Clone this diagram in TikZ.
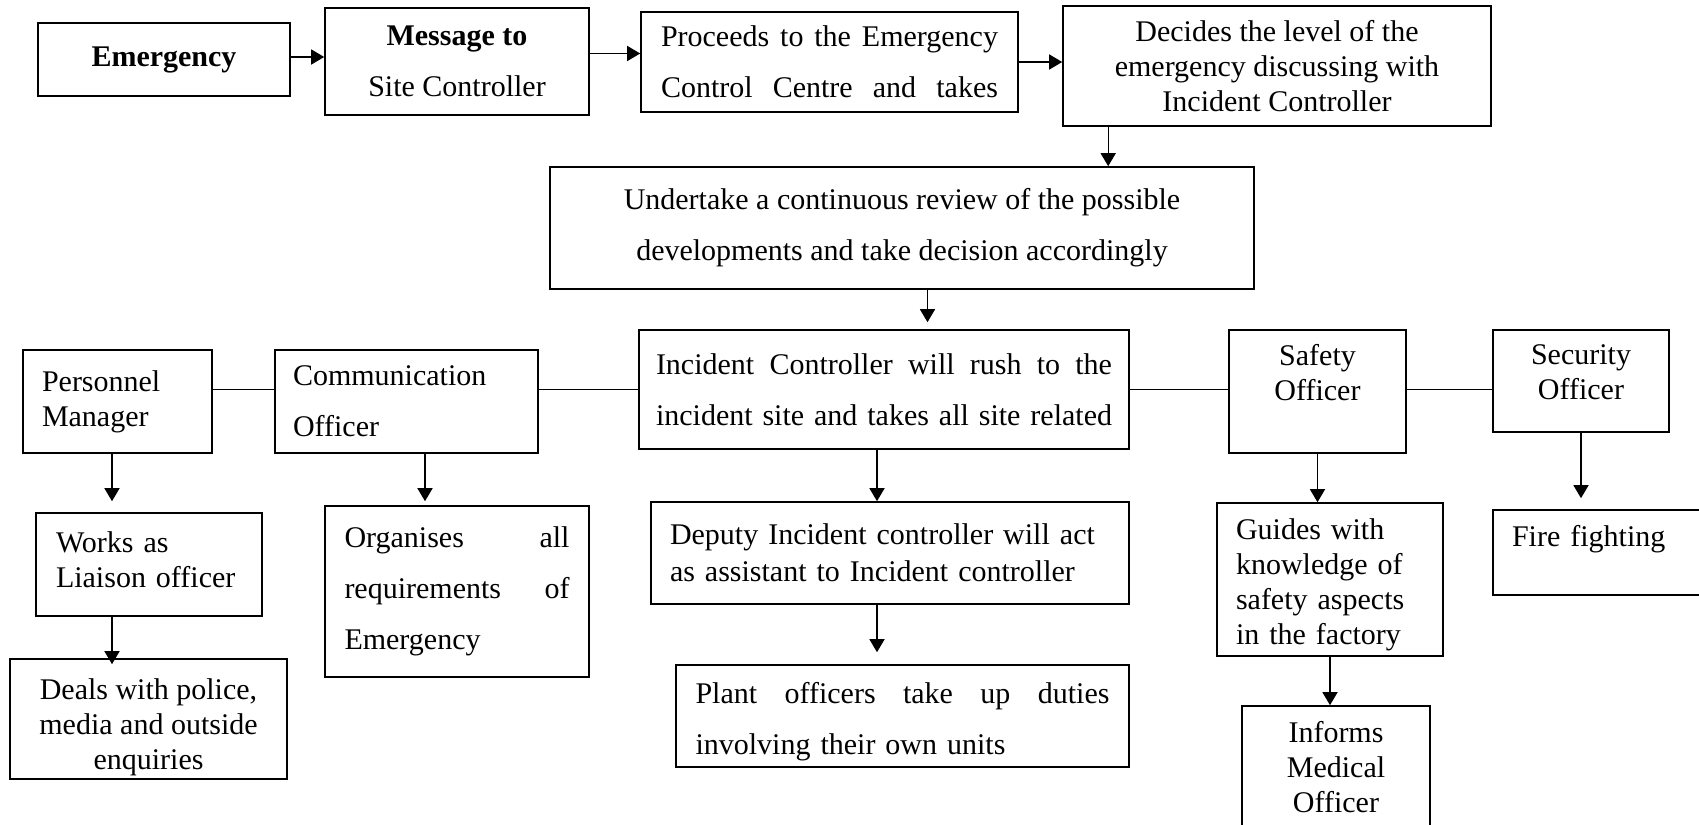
\documentclass[tikz,border=0pt]{standalone}
\usepackage{fontspec}
\setmainfont{Liberation Serif}
\usetikzlibrary{arrows.meta}

\begin{document}
\begin{tikzpicture}[x=0.5pt,y=-0.5pt,
    blk/.style={draw,line width=0.8pt,inner sep=0pt,font=\fontsize{15}{17.5}\selectfont},
    wide/.style={font=\fontsize{15}{25.5}\selectfont},
    arr/.style={-{Triangle[length=6.5pt,width=7.5pt]},line width=0.7pt},
    link/.style={line width=0.8pt}]
    \useasboundingbox (0,0) rectangle (1699,825);
    \clip (0,0) rectangle (1699,825);
    \node[blk,minimum width=126pt,minimum height=36.5pt] (emerg) at (164,59.5) {\textbf{Emergency}};
    \node[blk,wide,minimum width=132pt,minimum height=53.5pt,align=center] (msg) at (457,61.5) {\textbf{Message to}\\Site Controller};
    \node[blk,wide,minimum width=188.5pt,minimum height=50pt,text width=168.5pt,align=left] (proc) at (829.5,62) {\makebox[168.5pt][s]{Proceeds\hfill to\hfill the\hfill Emergency}\\\makebox[168.5pt][s]{Control\hfill Centre\hfill and\hfill takes}};
    \node[blk,minimum width=214pt,minimum height=60pt,align=center] (decide) at (1277,66) {Decides the level of the\\emergency discussing with\\Incident Controller};
    \node[blk,wide,minimum width=352pt,minimum height=61pt,align=center] (review) at (902,228) {Undertake a continuous review of the possible\\developments and take decision accordingly};
    \node[blk,minimum width=94.5pt,minimum height=51.5pt,text width=75.5pt,align=left] (person) at (117.5,401.5) {Personnel\\Manager};
    \node[blk,wide,minimum width=131.5pt,minimum height=51.5pt,text width=113.5pt,align=left] (comm) at (406.5,401.5) {Communication\\Officer};
    \node[blk,wide,minimum width=245pt,minimum height=59.5pt,text width=228pt,align=left] (incid) at (884,389.5) {\makebox[228pt][s]{Incident\hfill Controller\hfill will\hfill rush\hfill to\hfill the}\\\makebox[228pt][s]{incident\hfill site\hfill and\hfill takes\hfill all\hfill site\hfill related}};
    \node[blk,minimum width=88.5pt,minimum height=61.5pt,align=center,text depth=19pt] (safety) at (1317.5,391.5) {Safety\\Officer};
    \node[blk,minimum width=88pt,minimum height=51pt,align=center,text depth=9pt] (secur) at (1581,381) {Security\\Officer};
    \node[blk,minimum width=113pt,minimum height=51.5pt,text width=93pt,align=left,text depth=22.3pt] (works) at (149,564.5) {Works as\\Liaison officer};
    \node[blk,wide,minimum width=132pt,minimum height=85.5pt,text width=112.5pt,align=left] (organ) at (457,591.5) {\makebox[112.5pt][s]{Organises\hfill all}\\\makebox[112.5pt][s]{requirements\hfill of}\\Emergency};
    \node[blk,minimum width=138.5pt,minimum height=60pt,align=center,text height=53.2pt] (deals) at (148.5,719) {Deals with police,\\media and outside\\enquiries};
    \node[blk,minimum width=239pt,minimum height=51pt,text width=220pt,align=left,font=\fontsize{15}{18.5}\selectfont] (deputy) at (890,553) {Deputy Incident controller will act\\as assistant to Incident controller};
    \node[blk,wide,minimum width=226.5pt,minimum height=51pt,text width=207pt,align=left,text height=16.2pt] (plant) at (902.5,716) {\makebox[207pt][s]{Plant\hfill officers\hfill take\hfill up\hfill duties}\\involving their own units};
    \node[blk,minimum width=113pt,minimum height=76.5pt,text width=94pt,align=left,text height=16pt] (guides) at (1330,579.5) {Guides with\\knowledge of\\safety aspects\\in the factory};
    \node[blk,minimum width=94pt,minimum height=61pt,align=center] (inform) at (1336,767) {Informs\\Medical\\Officer};
    \node[blk,minimum width=108.5pt,minimum height=42.5pt,text width=89.5pt,align=left,text depth=17pt] (fire) at (1601.5,552.5) {Fire fighting};
    \draw[arr] ([yshift=1.25pt]emerg.east) -- ([yshift=1.25pt]emerg.east -| msg.west);
    \draw[arr] ([yshift=4pt]msg.east) -- ([yshift=4pt]msg.east -| proc.west);
    \draw[arr] (proc.east) -- (proc.east -| decide.west);
    \draw[arr] ([xshift=23pt]decide.south west) -- ([xshift=23pt]decide.south west |- review.north);
    \draw[arr,shorten >=3.5pt] ([xshift=12.75pt]review.south) -- ([xshift=12.75pt]review.south |- incid.north);
    \draw[link] (person.east |- incid.west) -- (comm.west |- incid.west);
    \draw[link] (comm.east |- incid.west) -- (incid.west);
    \draw[link] (incid.east) -- (incid.east -| safety.west);
    \draw[link] (safety.east |- incid.east) -- (secur.west |- incid.east);
    \draw[arr,shorten >=5.5pt] ([xshift=-2.75pt]person.south) -- ([xshift=-2.75pt]person.south |- works.north);
    \draw[arr,shorten >=-3pt] ([xshift=-18.5pt]works.south) -- ([xshift=-18.5pt]works.south |- deals.north);
    \draw[arr,shorten >=2pt] ([xshift=9.25pt]comm.south) -- ([xshift=9.25pt]comm.south |- organ.north);
    \draw[arr] ([xshift=-3.5pt]incid.south) -- ([xshift=-3.5pt]incid.south |- deputy.north);
    \draw[arr,shorten >=6pt] ([xshift=-6.5pt]deputy.south) -- ([xshift=-6.5pt]deputy.south |- plant.north);
    \draw[arr] (safety.south) -- (safety.south |- guides.north);
    \draw[arr] (guides.south) -- (guides.south |- inform.north);
    \draw[arr,shorten >=5.5pt] (secur.south) -- (secur.south |- fire.north);
\end{tikzpicture}
\end{document}
